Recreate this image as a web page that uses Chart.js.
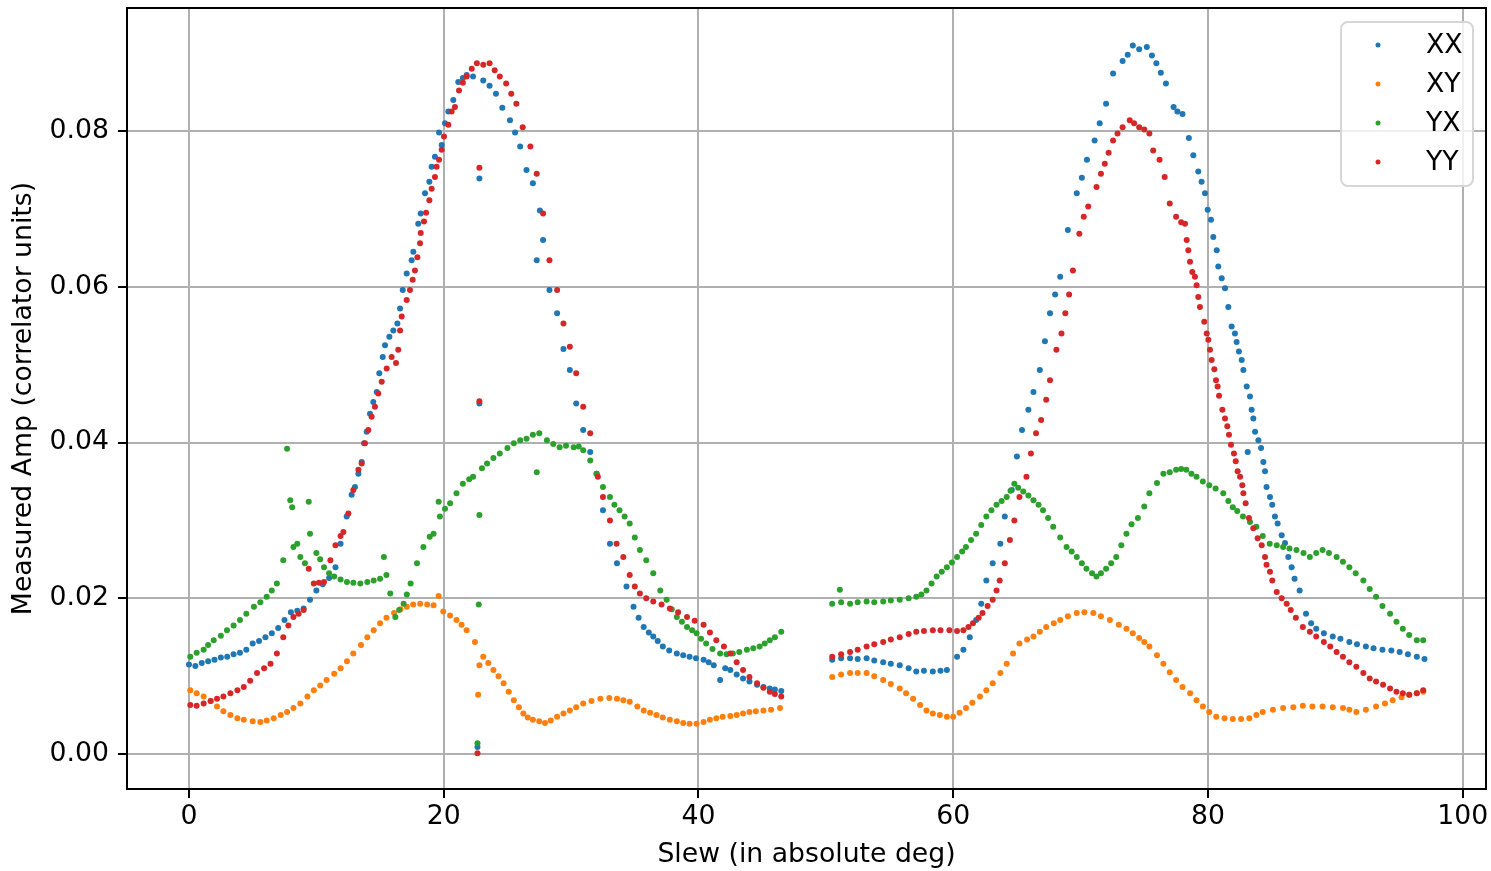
<!DOCTYPE html>
<html>
<head>
<meta charset="utf-8">
<script src="https://cdn.jsdelivr.net/npm/chart.js@4/dist/chart.umd.min.js"></script>
<style>
  body { margin: 0; background: #fff; }
  canvas { display: block; }
</style>
</head>
<body>
<canvas id="ampChart" width="1491" height="871"></canvas>
<script>
// values: [slew deg, measured amp]
const xxPoints = [
  [0.0,0.0115],[0.5,0.0113],[1.0,0.0117],[1.5,0.0119],[2.0,0.0121],[2.5,0.0124],[3.0,0.0125],[3.5,0.0128],[4.0,0.013],[4.5,0.0134],
  [5.0,0.0142],[5.5,0.0145],[6.0,0.015],[6.5,0.0155],[7.0,0.0162],[7.5,0.0172],[8.0,0.0182],[8.5,0.0184],[9.0,0.0187],[9.5,0.0198],
  [10.0,0.021],[10.5,0.0218],[11.0,0.0226],[11.5,0.024],[11.9,0.027],[12.38,0.0305],[12.77,0.0333],[13.03,0.0343],[13.3,0.036],[13.56,0.0375],
  [13.74,0.0399],[13.95,0.0414],[14.21,0.0437],[14.47,0.0452],[14.74,0.0465],[14.94,0.0489],[15.21,0.051],[15.39,0.0525],[15.73,0.0536],[16.04,0.0544],
  [16.36,0.0553],[16.57,0.0572],[16.78,0.0596],[17.09,0.0617],[17.48,0.0634],[17.61,0.0645],[18.0,0.0681],[18.19,0.0694],[18.53,0.072],[18.87,0.0735],
  [19.05,0.0754],[19.31,0.0767],[19.63,0.0798],[19.84,0.0782],[20.1,0.081],[20.36,0.0825],[20.75,0.084],[21.14,0.0863],[21.5,0.0868],[21.8,0.0872],
  [22.3,0.087],[22.8,0.0739],[22.8,0.045],[22.65,0.0009],[23.1,0.0865],[23.6,0.0858],[24.1,0.0848],[24.6,0.083],[25.2,0.0814],[25.6,0.0798],
  [26.0,0.078],[26.5,0.075],[27.0,0.0733],[27.3,0.0634],[27.55,0.0698],[27.8,0.066],[28.3,0.0596],[28.9,0.0566],[29.4,0.052],[29.9,0.0493],
  [30.4,0.045],[30.95,0.0416],[31.5,0.0388],[32.0,0.036],[32.5,0.0313],[33.05,0.027],[33.6,0.0245],[34.35,0.0215],[34.9,0.0189],[35.3,0.0175],
  [35.7,0.0163],[36.1,0.0156],[36.45,0.0151],[36.8,0.0145],[37.2,0.0138],[37.7,0.0133],[38.3,0.0129],[38.8,0.0127],[39.3,0.0125],[39.8,0.0123],
  [40.4,0.0121],[40.8,0.0118],[41.2,0.0114],[41.7,0.0095],[42.1,0.011],[42.5,0.0108],[43.0,0.0102],[43.5,0.0097],[44.0,0.0093],[44.6,0.0089],
  [45.1,0.0086],[45.6,0.0084],[46.0,0.0083],[46.5,0.0081],
  [50.5,0.0121],[51.2,0.0123],[51.9,0.0123],[52.5,0.0122],[53.2,0.0123],[53.8,0.012],[54.5,0.0118],[55.1,0.0116],[55.8,0.0114],[56.5,0.011],
  [57.1,0.0106],[57.7,0.0107],[58.4,0.0106],[59.0,0.0107],[59.5,0.0108],[60.3,0.0125],[60.8,0.0134],[61.3,0.015],[61.8,0.0172],[62.2,0.0193],
  [62.6,0.0223],[63.1,0.0245],[63.7,0.027],[64.05,0.0305],[64.6,0.0339],[65.0,0.0382],[65.4,0.0416],[65.9,0.0442],[66.3,0.0465],[66.8,0.0493],
  [67.2,0.053],[67.6,0.0566],[68.0,0.059],[68.4,0.0613],[69.0,0.0673],[69.7,0.072],[70.1,0.074],[70.5,0.0763],[71.1,0.0788],[71.5,0.081],
  [72.0,0.0835],[72.55,0.0874],[73.3,0.089],[73.7,0.0898],[74.1,0.091],[74.6,0.0905],[75.2,0.0908],[75.6,0.0897],[75.95,0.0887],[76.3,0.0875],
  [76.7,0.0861],[77.3,0.0831],[77.6,0.0825],[78.0,0.0822],[78.5,0.0791],[78.85,0.0769],[79.24,0.0748],[79.5,0.0735],[79.77,0.072],[79.98,0.0699],
  [80.24,0.0686],[80.42,0.0664],[80.69,0.0647],[80.81,0.0626],[81.08,0.0611],[81.34,0.0598],[81.6,0.0574],[81.86,0.0549],[82.12,0.054],[82.25,0.0529],
  [82.43,0.0517],[82.65,0.0506],[82.78,0.0493],[83.04,0.0472],[83.12,0.0388],[83.3,0.0459],[83.43,0.0442],[83.56,0.0431],[83.7,0.0414],[83.96,0.0403],
  [84.17,0.0393],[84.35,0.0375],[84.48,0.0363],[84.6,0.0343],[84.87,0.033],[85.05,0.032],[85.26,0.0305],[85.47,0.0296],[85.79,0.0281],[86.05,0.0271],
  [86.31,0.0253],[86.57,0.024],[86.8,0.0225],[87.2,0.021],[87.7,0.018],[88.1,0.0168],[88.5,0.0161],[89.1,0.0155],[89.8,0.0151],[90.4,0.0148],
  [91.1,0.0144],[91.7,0.0141],[92.4,0.0138],[93.0,0.0136],[93.7,0.0134],[94.4,0.0133],[95.05,0.0131],[95.7,0.0128],[96.4,0.0125],[97.0,0.0122]
];

const xyPoints = [
  [0.1,0.0082],[0.6,0.0078],[1.15,0.0074],[1.7,0.0068],[2.2,0.0061],[2.7,0.0055],[3.25,0.005],[3.8,0.0046],[4.3,0.0044],[5.0,0.0042],
  [5.6,0.0041],[6.1,0.0043],[6.65,0.0046],[7.2,0.005],[7.7,0.0054],[8.2,0.0059],[8.74,0.0065],[9.3,0.0074],[9.8,0.0082],[10.3,0.0088],
  [10.8,0.0095],[11.4,0.0103],[11.9,0.011],[12.4,0.0119],[12.9,0.0129],[13.5,0.014],[14.0,0.015],[14.5,0.0159],[15.0,0.0168],[15.5,0.0175],
  [16.1,0.0181],[16.6,0.0186],[17.1,0.0189],[17.6,0.0192],[18.15,0.0193],[18.7,0.0192],[19.2,0.0191],[19.6,0.0203],[19.96,0.0183],[20.5,0.0178],
  [21.0,0.0172],[21.4,0.0166],[21.8,0.0159],[22.45,0.0144],[22.7,0.0076],[22.8,0.0114],[23.1,0.0125],[23.5,0.0117],[23.9,0.0108],[24.3,0.01],
  [24.7,0.0091],[25.1,0.008],[25.5,0.0069],[25.9,0.006],[26.25,0.0052],[26.6,0.0047],[27.0,0.0044],[27.5,0.0042],[27.95,0.004],[28.4,0.0043],
  [28.9,0.0048],[29.4,0.0052],[29.9,0.0056],[30.4,0.006],[30.95,0.0065],[31.6,0.0068],[32.3,0.0071],[33.0,0.0072],[33.6,0.0071],[34.1,0.0069],
  [34.6,0.0067],[35.2,0.0061],[35.7,0.0056],[36.2,0.0053],[36.7,0.005],[37.2,0.0047],[37.75,0.0044],[38.3,0.0042],[38.8,0.004],[39.3,0.0039],
  [39.85,0.0039],[40.4,0.0041],[40.9,0.0044],[41.4,0.0046],[41.9,0.0048],[42.5,0.0049],[43.0,0.005],[43.5,0.0052],[44.0,0.0054],[44.5,0.0055],
  [45.1,0.0056],[45.7,0.0057],[46.4,0.0059],
  [50.5,0.0099],[51.2,0.0102],[51.9,0.0104],[52.5,0.0104],[53.2,0.0104],[53.8,0.01],[54.5,0.0095],[55.1,0.009],[55.8,0.0084],[56.3,0.0078],
  [56.85,0.0071],[57.4,0.0063],[57.9,0.0056],[58.4,0.0052],[58.95,0.005],[59.5,0.0048],[60.0,0.0048],[60.5,0.0053],[61.0,0.0059],[61.5,0.0066],
  [62.1,0.0074],[62.6,0.0082],[63.1,0.0091],[63.7,0.0104],[64.2,0.0116],[64.7,0.0129],[65.2,0.0142],[65.8,0.0147],[66.3,0.0151],[66.8,0.0157],
  [67.3,0.0163],[67.9,0.0168],[68.4,0.0172],[69.0,0.0177],[69.7,0.0181],[70.3,0.0182],[71.0,0.0181],[71.6,0.0177],[72.3,0.0172],[73.0,0.0166],
  [73.6,0.0161],[74.1,0.0155],[74.6,0.0149],[75.0,0.0144],[75.4,0.0138],[76.0,0.0127],[76.5,0.0116],[77.0,0.0105],[77.5,0.0095],[78.0,0.0086],
  [78.6,0.0078],[79.1,0.0069],[79.6,0.0061],[80.1,0.0054],[80.65,0.0048],[81.3,0.0046],[81.95,0.0045],[82.6,0.0045],[83.25,0.0046],[83.8,0.005],
  [84.3,0.0054],[85.1,0.0057],[85.9,0.0059],[86.7,0.006],[87.45,0.0062],[88.2,0.0061],[89.0,0.0061],[89.8,0.006],[90.6,0.0059],[91.1,0.0057],
  [91.65,0.0054],[92.4,0.0057],[93.2,0.0061],[93.9,0.0065],[94.5,0.0069],[95.2,0.0073],[95.8,0.0076],[96.4,0.0078],[96.9,0.008]
];

const yxPoints = [
  [0.1,0.0125],[0.6,0.013],[1.15,0.0134],[1.5,0.014],[1.94,0.0146],[2.5,0.0152],[2.98,0.0159],[3.5,0.0165],[4.0,0.0172],[4.5,0.018],
  [5.1,0.0189],[5.6,0.0195],[6.1,0.0202],[6.5,0.021],[6.9,0.0219],[7.4,0.0249],[7.7,0.0392],[7.95,0.0326],[8.1,0.0317],[8.2,0.0266],
  [8.5,0.027],[8.74,0.0253],[9.1,0.0245],[9.4,0.0324],[9.5,0.0283],[10.0,0.0258],[10.3,0.025],[10.6,0.024],[11.0,0.0232],[11.4,0.0228],
  [11.9,0.0224],[12.4,0.0221],[12.9,0.022],[13.45,0.0219],[14.0,0.0221],[14.5,0.0223],[15.0,0.0225],[15.3,0.0253],[15.5,0.023],[15.8,0.0206],
  [16.2,0.0176],[16.5,0.0185],[16.85,0.0193],[17.1,0.0205],[17.4,0.0219],[17.9,0.0245],[18.4,0.0266],[18.9,0.0279],[19.2,0.0283],[19.6,0.0324],
  [19.7,0.0305],[20.1,0.0315],[20.5,0.0322],[21.0,0.0335],[21.5,0.0347],[22.0,0.0353],[22.3,0.0356],[22.65,0.0014],[22.75,0.0192],[22.8,0.0307],
  [23.0,0.0367],[23.4,0.0373],[23.9,0.038],[24.4,0.0386],[25.0,0.0393],[25.5,0.0399],[26.0,0.0403],[26.5,0.0405],[27.0,0.041],[27.3,0.0362],
  [27.5,0.0412],[28.1,0.0403],[28.6,0.0398],[29.1,0.0394],[29.6,0.0396],[30.2,0.0394],[30.6,0.0395],[30.95,0.039],[31.5,0.0377],[32.0,0.036],
  [32.5,0.0343],[33.05,0.033],[33.4,0.032],[33.8,0.0313],[34.2,0.0305],[34.6,0.0296],[35.0,0.0278],[35.4,0.0262],[35.9,0.0249],[36.45,0.0232],
  [37.0,0.021],[37.5,0.0198],[37.9,0.0186],[38.3,0.0176],[38.7,0.017],[39.1,0.0163],[39.5,0.0159],[39.85,0.0155],[40.2,0.0148],[40.6,0.0142],
  [41.1,0.0135],[41.7,0.0129],[42.2,0.0128],[42.7,0.0129],[43.2,0.0131],[43.8,0.0134],[44.3,0.0136],[44.8,0.0138],[45.2,0.0142],[45.6,0.0146],
  [46.0,0.015],[46.5,0.0157],
  [50.5,0.0193],[51.1,0.0211],[51.2,0.0195],[51.9,0.0193],[52.5,0.0195],[53.2,0.0196],[53.8,0.0195],[54.5,0.0196],[55.1,0.0197],[55.8,0.0198],
  [56.5,0.02],[57.1,0.0202],[57.5,0.0205],[57.9,0.021],[58.3,0.0219],[58.7,0.0228],[59.1,0.0234],[59.5,0.024],[59.9,0.0246],[60.3,0.0253],
  [60.7,0.026],[61.0,0.0266],[61.4,0.0275],[61.8,0.0283],[62.2,0.0294],[62.6,0.0305],[63.0,0.0313],[63.4,0.032],[63.8,0.0325],[64.2,0.033],
  [64.5,0.0338],[64.8,0.0347],[65.1,0.0342],[65.5,0.0337],[65.9,0.0332],[66.3,0.0326],[66.7,0.032],[67.05,0.0313],[67.45,0.0303],[67.85,0.0292],
  [68.4,0.0278],[68.9,0.0266],[69.3,0.026],[69.7,0.0253],[70.1,0.0245],[70.46,0.0238],[70.9,0.0232],[71.25,0.0228],[71.6,0.0232],[72.0,0.0238],
  [72.4,0.0245],[72.8,0.0253],[73.2,0.0268],[73.6,0.0283],[74.0,0.0295],[74.5,0.0303],[75.0,0.0318],[75.4,0.0335],[76.0,0.0348],[76.5,0.036],
  [77.0,0.0362],[77.5,0.0365],[77.9,0.0366],[78.3,0.0365],[78.7,0.036],[79.1,0.0356],[79.6,0.035],[80.1,0.0345],[80.6,0.0341],[81.2,0.0335],
  [81.6,0.0325],[81.95,0.0317],[82.3,0.0312],[82.75,0.0305],[83.3,0.0298],[83.8,0.0292],[84.3,0.028],[84.85,0.027],[85.4,0.0268],[85.9,0.0266],
  [86.4,0.0264],[86.95,0.0262],[87.5,0.0258],[88.0,0.0253],[88.5,0.0258],[89.0,0.0262],[89.5,0.0258],[90.1,0.0253],[90.6,0.0247],[91.1,0.024],
  [91.6,0.0232],[92.2,0.0223],[92.7,0.0212],[93.2,0.0202],[93.7,0.019],[94.3,0.018],[94.8,0.017],[95.3,0.0161],[95.8,0.0153],[96.4,0.0146],
  [96.9,0.0146]
];

const yyPoints = [
  [0.1,0.0063],[0.6,0.0062],[1.15,0.0065],[1.7,0.0068],[2.2,0.0071],[2.7,0.0074],[3.25,0.0078],[3.8,0.0082],[4.3,0.0086],[4.8,0.0094],
  [5.34,0.0104],[5.9,0.011],[6.4,0.0116],[6.9,0.0129],[7.4,0.015],[7.8,0.0165],[8.2,0.0176],[8.6,0.018],[9.0,0.0185],[9.4,0.0238],
  [9.8,0.0219],[10.2,0.022],[10.6,0.0221],[11.1,0.0249],[11.5,0.0268],[11.9,0.028],[12.12,0.0285],[12.51,0.0309],[12.9,0.0339],[13.3,0.0365],
  [13.56,0.0373],[13.82,0.0399],[14.08,0.0416],[14.34,0.0433],[14.6,0.0446],[14.86,0.0463],[15.13,0.0478],[15.52,0.0495],[15.91,0.051],[16.25,0.0502],
  [16.43,0.0519],[16.57,0.0544],[16.7,0.0562],[17.09,0.0583],[17.35,0.0596],[17.56,0.0609],[17.74,0.0621],[17.93,0.0638],[18.14,0.0656],[18.19,0.0669],
  [18.45,0.0684],[18.61,0.0695],[18.87,0.0711],[19.05,0.0726],[19.31,0.0741],[19.44,0.0754],[19.63,0.0763],[19.84,0.0776],[20.02,0.0793],[20.36,0.0808],
  [20.62,0.0825],[20.88,0.0831],[21.2,0.0852],[21.5,0.0862],[21.8,0.087],[22.2,0.088],[22.6,0.0887],[22.8,0.0753],[22.8,0.0453],[22.65,0.0001],
  [23.1,0.0885],[23.6,0.0887],[24.0,0.0878],[24.4,0.087],[24.9,0.0861],[25.3,0.0848],[25.7,0.0835],[26.2,0.0805],[26.8,0.078],[27.3,0.0745],
  [27.8,0.0694],[28.3,0.0634],[28.9,0.0596],[29.4,0.0553],[29.9,0.0523],[30.4,0.0489],[30.95,0.0446],[31.5,0.0412],[32.1,0.0356],[32.5,0.033],
  [33.05,0.03],[33.57,0.027],[34.1,0.0253],[34.6,0.023],[35.0,0.0215],[35.4,0.0206],[35.9,0.02],[36.45,0.0196],[37.1,0.0192],[37.75,0.0187],
  [38.4,0.0182],[39.1,0.0176],[39.7,0.0171],[40.4,0.0166],[40.9,0.0156],[41.4,0.0146],[42.0,0.0138],[42.5,0.0129],[43.0,0.0118],[43.5,0.0108],
  [44.0,0.0099],[44.6,0.0091],[45.1,0.0085],[45.6,0.008],[46.0,0.0077],[46.5,0.0074],
  [50.5,0.0125],[51.2,0.0128],[51.9,0.0131],[52.5,0.0134],[53.2,0.0138],[53.8,0.0141],[54.5,0.0144],[55.1,0.0147],[55.8,0.015],[56.5,0.0154],
  [57.1,0.0157],[57.7,0.0158],[58.4,0.0159],[59.0,0.0159],[59.7,0.0159],[60.3,0.0158],[60.8,0.0159],[61.2,0.0163],[61.55,0.0168],[62.0,0.0175],
  [62.3,0.0181],[62.7,0.019],[63.1,0.0198],[63.4,0.021],[63.65,0.0223],[64.05,0.0245],[64.45,0.0275],[64.8,0.03],[65.2,0.033],[65.75,0.0356],
  [66.1,0.0386],[66.5,0.0412],[66.9,0.0429],[67.3,0.0455],[67.6,0.048],[68.1,0.0519],[68.5,0.054],[68.8,0.0566],[69.1,0.059],[69.4,0.0621],
  [69.9,0.0668],[70.25,0.069],[70.6,0.0703],[71.25,0.0728],[71.6,0.0745],[71.9,0.0758],[72.2,0.0772],[72.55,0.0788],[72.9,0.0797],[73.3,0.0805],
  [73.86,0.0814],[74.2,0.081],[74.6,0.0805],[75.0,0.0802],[75.4,0.0797],[75.7,0.0775],[76.2,0.0763],[76.6,0.0741],[77.0,0.0707],[77.5,0.069],
  [77.9,0.0683],[78.2,0.0681],[78.33,0.066],[78.46,0.0647],[78.59,0.0632],[78.77,0.0619],[78.98,0.0613],[79.11,0.0602],[79.24,0.0587],[79.37,0.0574],
  [79.71,0.0555],[79.9,0.054],[80.03,0.0532],[80.16,0.0519],[80.29,0.0506],[80.5,0.0494],[80.63,0.048],[80.76,0.0472],[80.87,0.046],[81.13,0.0442],
  [81.34,0.0431],[81.52,0.0421],[81.65,0.041],[81.81,0.0397],[82.04,0.0386],[82.18,0.0376],[82.33,0.0363],[82.52,0.0356],[82.7,0.0345],[82.78,0.0335],
  [82.96,0.0322],[83.22,0.0303],[83.56,0.029],[83.9,0.0277],[84.22,0.0268],[84.48,0.0253],[84.6,0.0243],[84.87,0.0234],[85.05,0.0223],[85.4,0.0208],
  [85.79,0.02],[86.18,0.0193],[86.5,0.0185],[86.9,0.0175],[87.45,0.0163],[88.0,0.0157],[88.5,0.0151],[89.1,0.0144],[89.6,0.0138],[90.1,0.0131],
  [90.6,0.0125],[91.1,0.0118],[91.65,0.0112],[92.2,0.0104],[92.7,0.0097],[93.2,0.0093],[93.75,0.0089],[94.3,0.0084],[94.8,0.008],[95.3,0.0078],
  [95.8,0.0076],[96.4,0.0078],[96.9,0.0082]
];

const seriesNames = ["XX", "XY", "YX", "YY"];
const seriesColors = ["#1f77b4", "#ff7f0e", "#2ca02c", "#d62728"];
const xTicks = [0, 20, 40, 60, 80, 100];
const yTicks = [0, 0.02, 0.04, 0.06, 0.08];

const FONT = "'DejaVu Sans', sans-serif";
const FS = 26.7;

function toXY(points) {
    return points.map(p => ({ x: p[0], y: p[1] }));
}

// black frame like matplotlib spines
const framePlugin = {
    id: "frame",
    afterDatasetsDraw(chart) {
        const { ctx, chartArea: a } = chart;
        ctx.save();
        ctx.strokeStyle = "#000";
        ctx.lineWidth = 2;
        ctx.strokeRect(a.left, a.top, a.right - a.left, a.bottom - a.top);
        ctx.restore();
    }
};

// legend box in the upper right corner of the plot
const boxLegend = {
    id: "boxLegend",
    afterDraw(chart) {
        const ctx = chart.ctx;
        const x0 = 1341, y0 = 22, w = 132, h = 164, r = 7;
        ctx.save();
        ctx.beginPath();
        ctx.roundRect(x0, y0, w, h, r);
        ctx.fillStyle = "rgba(255,255,255,0.8)";
        ctx.fill();
        ctx.strokeStyle = "#d6d6d6";
        ctx.lineWidth = 2;
        ctx.stroke();
        ctx.font = FS + "px " + FONT;
        ctx.textBaseline = "middle";
        ctx.textAlign = "left";
        seriesNames.forEach((name, i) => {
            const cy = 45 + i * 39;
            ctx.beginPath();
            ctx.arc(1378, cy, 2.5, 0, Math.PI * 2);
            ctx.fillStyle = seriesColors[i];
            ctx.fill();
            ctx.fillStyle = "#000";
            ctx.fillText(name, 1426, cy + 1);
        });
        ctx.restore();
    }
};

function noEdgePadding(s) {
    s.paddingTop = 0;
    s.paddingBottom = 0;
    s.paddingLeft = 0;
    s.paddingRight = 0;
}

const allPoints = [xxPoints, xyPoints, yxPoints, yyPoints];

let ctx = document.getElementById("ampChart").getContext("2d");
let ampChart = new Chart(ctx, {
    type: "scatter",
    data: {
        datasets: allPoints.map((pts, i) => ({
            label: seriesNames[i],
            data: toXY(pts),
            backgroundColor: seriesColors[i],
            borderWidth: 0,
            pointRadius: 3,
            order: 3 - i // later series drawn on top
        }))
    },
    options: {
        responsive: false,
        animation: false,
        devicePixelRatio: 1,
        layout: { padding: { top: 8, right: 5, left: 0, bottom: 0 } },
        plugins: {
            legend: { display: false },
            tooltip: { enabled: false }
        },
        scales: {
            x: {
                type: "linear",
                min: -4.868,
                max: 101.83,
                afterBuildTicks: s => { s.ticks = xTicks.map(v => ({ value: v })); },
                afterFit: s => { s.height = 82; noEdgePadding(s); },
                ticks: {
                    color: "#000",
                    font: { family: FONT, size: FS },
                    padding: 3,
                    maxRotation: 0,
                    callback: v => String(v)
                },
                grid: { color: "#b0b0b0", lineWidth: 2, tickColor: "#000", tickLength: 9, tickWidth: 2 },
                border: { display: false },
                title: {
                    display: true,
                    text: "Slew (in absolute deg)",
                    color: "#000",
                    font: { family: FONT, size: FS, lineHeight: 1.2 },
                    padding: { top: 0, bottom: 0 }
                }
            },
            y: {
                type: "linear",
                min: -0.00449,
                max: 0.0958,
                afterBuildTicks: s => { s.ticks = yTicks.map(v => ({ value: v })); },
                afterFit: s => { s.width = 127; noEdgePadding(s); },
                ticks: {
                    color: "#000",
                    font: { family: FONT, size: FS },
                    padding: 9,
                    callback: v => v.toFixed(2)
                },
                grid: { color: "#b0b0b0", lineWidth: 2, tickColor: "#000", tickLength: 9, tickWidth: 2 },
                border: { display: false },
                title: {
                    display: true,
                    text: "Measured Amp (correlator units)",
                    color: "#000",
                    font: { family: FONT, size: FS, lineHeight: 1.2 },
                    padding: { top: 8, bottom: 0 }
                }
            }
        }
    },
    plugins: [framePlugin, boxLegend]
});
</script>
</body>
</html>
